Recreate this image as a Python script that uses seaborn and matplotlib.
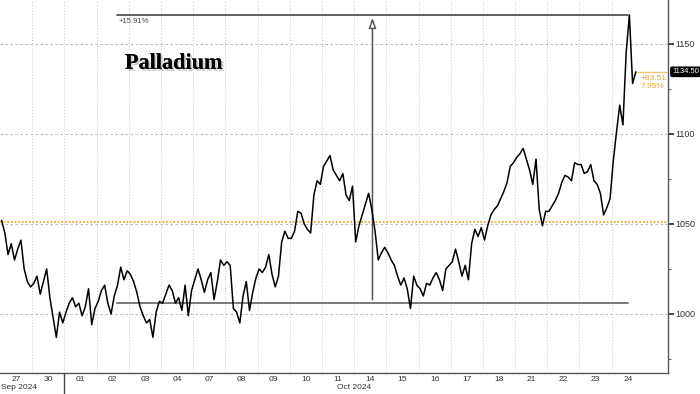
import numpy as np
import pandas as pd
import matplotlib
matplotlib.use('Agg')
import matplotlib.pyplot as plt
import matplotlib.transforms as mtransforms
import matplotlib.patheffects as pe
import seaborn as sns

# Trading days on the x axis
day_labels = ['27', '30', '01', '02', '03', '04', '07', '08', '09', '10',
              '11', '14', '15', '16', '17', '18', '21', '22', '23', '24']
samples_per_day = 10

# Intraday palladium price (10 samples per day)
prices = [
    1052, 1045, 1033, 1039, 1030, 1036, 1041, 1025, 1018, 1015,   # 27 Sep
    1017, 1021, 1011, 1018, 1025, 1009, 998, 987, 1001, 995,      # 30
    1001, 1006, 1009, 1004, 1006, 999, 1004, 1014, 994, 1003,     # 01 Oct
    1007, 1013, 1016, 1006, 1000, 1010, 1016, 1026, 1019, 1024,   # 02
    1022, 1018, 1012, 1004, 999, 995, 997, 987, 1001, 1007,       # 03
    1006, 1011, 1016, 1013, 1006, 1009, 1002, 1016, 999, 1013,    # 04
    1019, 1025, 1019, 1012, 1019, 1023, 1008, 1018, 1030, 1027,   # 07
    1029, 1027, 1003, 1001, 995, 1010, 1018, 1002, 1012, 1020,    # 08
    1025, 1023, 1026, 1033, 1022, 1015, 1021, 1040, 1046, 1042,   # 09
    1042, 1046, 1057, 1056, 1050, 1047, 1045, 1066, 1074, 1072,   # 10
    1082, 1085, 1088, 1080, 1077, 1074, 1078, 1066, 1063, 1071,   # 11
    1040, 1049, 1055, 1061, 1067, 1058, 1046, 1030, 1034, 1037,   # 14
    1034, 1030, 1027, 1021, 1016, 1020, 1014, 1003, 1021, 1016,   # 15
    1014, 1010, 1017, 1016, 1020, 1023, 1019, 1013, 1025, 1027,   # 16
    1029, 1036, 1029, 1021, 1027, 1019, 1039, 1047, 1043, 1048,   # 17
    1041, 1049, 1055, 1058, 1060, 1064, 1068, 1073, 1082, 1084,   # 18
    1087, 1089, 1092, 1086, 1080, 1072, 1086, 1058, 1049, 1057,   # 21
    1057, 1060, 1063, 1067, 1073, 1077, 1076, 1074, 1084, 1083,   # 22
    1083, 1078, 1079, 1083, 1074, 1072, 1067, 1055, 1059, 1064,   # 23
    1085, 1101, 1116, 1105, 1145, 1166, 1128, 1134.5,             # 24
]

ref_price = 1050.99      # dotted reference level
last_price = 1134.50
change_abs = '+83.51'
change_pct = '7.95%'
range_low = 1006.3       # measuring tool, low / high
range_high = 1166.0
range_start_day = 3.63
range_end_day = 19.52
arrow_day = 11.57
range_label = '+15.91%'

df = pd.DataFrame({'t': (np.arange(len(prices)) + 0.5) / samples_per_day,
                   'price': prices})

sns.set_style('white')
plt.rcParams['font.family'] = ['Liberation Sans', 'DejaVu Sans']

fig = plt.figure(figsize=(7, 3.94), dpi=100)
ax = fig.add_axes([0, 21 / 394, 668 / 700, 373 / 394])

# grid
for d in range(1, len(day_labels)):
    ax.axvline(d, color='#c4c4c4', lw=0.7, ls=(0, (1, 2)), zorder=0)
for v in [1000, 1050, 1100, 1150]:
    ax.axhline(v, color='#b0b0b0', lw=0.6, ls=(0, (3, 3)), zorder=0)

ax.axhline(ref_price, color='#f0a830', lw=1.3, ls=(0, (1, 1)), zorder=1)

sns.lineplot(data=df, x='t', y='price', ax=ax, color='black', lw=1.1,
             estimator=None, sort=False, zorder=3)

# measuring tool
ax.plot([range_start_day, range_end_day], [range_low, range_low], color='#707070', lw=1.3, zorder=2)
ax.plot([range_start_day, range_end_day], [range_high, range_high], color='#555555', lw=1.3, zorder=2)
ax.annotate('', xy=(arrow_day, range_high), xytext=(arrow_day, range_low),
            arrowprops=dict(arrowstyle='-|>,head_width=0.22,head_length=0.6',
                            fc='white', ec='#555555', lw=1.1), zorder=2)
ax.text(range_start_day + 0.05, range_high - 1.5, range_label, fontsize=5.5,
        color='#444444', ha='left', va='top')

# last price marker line
last_t = df['t'].iloc[-1]
ax.plot([last_t, 20.75], [last_price, last_price], color='#f3c577', lw=1.0, zorder=2)
ax.text(last_t + 0.15, last_price - 1.5, change_abs, fontsize=6, color='#e5a53a', va='top')
ax.text(last_t + 0.15, last_price - 6.0, change_pct, fontsize=6, color='#e5a53a', va='top')

ax.text(5.4, 1139, 'Palladium', fontsize=16, fontweight='bold', family='Liberation Serif',
        ha='center', va='center', color='black',
        path_effects=[pe.withSimplePatchShadow(offset=(1.5, -1.5), shadow_rgbFace='#777777', alpha=0.35),
                      pe.Normal()])

ax.set_xlim(0, 20.75)
ax.set_ylim(967.2, 1174.4)
ax.set_xlabel('')
ax.set_ylabel('')

ax.set_xticks(np.arange(len(day_labels)) + 0.5)
ax.set_xticklabels(day_labels)
ax.tick_params(axis='x', length=0, labelsize=6, labelcolor='#333333', pad=2)

ax.yaxis.tick_right()
ax.set_yticks([1000, 1050, 1100, 1150])
ax.set_yticks([975, 1025, 1075, 1125], minor=True)
ax.tick_params(axis='y', which='major', length=4, width=1.2, color='#222222',
               labelsize=6.5, labelcolor='#333333', pad=1)
ax.tick_params(axis='y', which='minor', length=2, width=0.8, color='#666666')

for s in ['left', 'top']:
    ax.spines[s].set_visible(False)
for s in ['right', 'bottom']:
    ax.spines[s].set_color('#555555')
    ax.spines[s].set_linewidth(1.0)

# price tag on the right axis
trans = mtransforms.blended_transform_factory(ax.transAxes, ax.transData)
ax.text(1.006, last_price, f'{last_price:.2f}', transform=trans, fontsize=5.5, color='white',
        ha='left', va='center', bbox=dict(boxstyle='round,pad=0.15', fc='black', ec='black'),
        clip_on=False)

# month row
trans_x = mtransforms.blended_transform_factory(ax.transData, ax.transAxes)
ax.plot([2, 2], [0, -0.056], color='#444444', lw=1.0, transform=trans_x, clip_on=False)
ax.text(0.03, -0.038, 'Sep 2024', transform=trans_x, fontsize=6, color='#333333',
        ha='left', va='center')
ax.text(11.0, -0.038, 'Oct 2024', transform=trans_x, fontsize=6, color='#333333',
        ha='center', va='center')

fig.savefig('out.png', dpi=100, facecolor='white')
